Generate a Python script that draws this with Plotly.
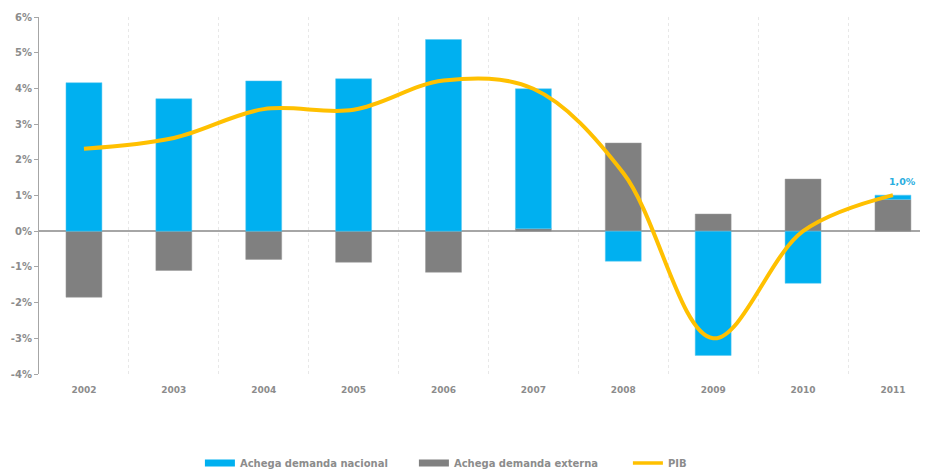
import plotly.graph_objects as go

years = ["2002", "2003", "2004", "2005", "2006", "2007", "2008", "2009", "2010", "2011"]
nacional = [4.16, 3.71, 4.21, 4.27, 5.37, 3.92, -0.84, -3.48, -1.46, 0.12]
externa = [-1.85, -1.10, -0.79, -0.87, -1.15, 0.07, 2.47, 0.48, 1.46, 0.89]
pib = [2.31, 2.61, 3.42, 3.40, 4.22, 3.99, 1.63, -3.00, 0.00, 1.01]
y_ticks = [-4, -3, -2, -1, 0, 1, 2, 3, 4, 5, 6]
y_ticktext = ["-4%", "-3%", "-2%", "-1%", "0%", "1%", "2%", "3%", "4%", "5%", "6%"]

BLUE = "#00B0F0"
GRAY = "#808080"
YELLOW = "#FFC000"
TXT = "#8C8C8C"
FONT = "DejaVu Sans"

fig = go.Figure()
fig.add_trace(go.Bar(x=years, y=externa, marker=dict(color=GRAY, line=dict(color="#9a9a9a", width=0.5)),
                     width=0.4, showlegend=False, hoverinfo="y"))
fig.add_trace(go.Bar(x=years, y=nacional, marker=dict(color=BLUE, line=dict(color="#5cc8f0", width=0.5)),
                     width=0.4, showlegend=False, hoverinfo="y"))
fig.add_trace(go.Scatter(x=years, y=pib, mode="lines", line=dict(color=YELLOW, width=4, shape="spline", smoothing=1),
                         showlegend=False))

# legend entries
fig.add_trace(go.Scatter(x=[None], y=[None], mode="lines", line=dict(color=BLUE, width=7),
                         name="Achega demanda nacional"))
fig.add_trace(go.Scatter(x=[None], y=[None], mode="lines", line=dict(color=GRAY, width=7),
                         name="Achega demanda externa"))
fig.add_trace(go.Scatter(x=[None], y=[None], mode="lines", line=dict(color=YELLOW, width=3.5),
                         name="PIB"))

fig.add_annotation(x=len(years) - 1, y=pib[-1], text="<b>" + f"{pib[-1]:.1f}".replace(".", ",") + "%</b>",
                   showarrow=False, xanchor="right", yanchor="middle", xshift=25, yshift=14,
                   font=dict(family=FONT, size=9.5, color="#2AAEE0"))

fig.update_layout(
    width=920, height=464,
    margin=dict(l=31, r=0, t=9, b=98),
    plot_bgcolor="white", paper_bgcolor="white",
    barmode="relative", bargap=0.6,
    font=dict(family=FONT, size=9, color=TXT),
    legend=dict(orientation="h", x=0.181, xanchor="left", yref="container", y=0.0194, yanchor="middle",
                font=dict(family=FONT, size=10, color=TXT, weight="bold"),
                itemwidth=30, tracegroupgap=0, entrywidth=169),
    xaxis=dict(type="category", range=[-0.5, 9.39], tickson="boundaries", showgrid=True,
               griddash="3px,3px", gridcolor="#E8E8E8", gridwidth=1, ticks="", showline=False,
               automargin=False,
               tickfont=dict(family=FONT, size=9, color=TXT, weight="bold"), ticklabelstandoff=9),
    yaxis=dict(range=[-4, 6], tickvals=y_ticks, ticktext=["<b>" + t + "</b>" for t in y_ticktext],
               showgrid=False, automargin=False,
               zeroline=True, zerolinecolor="#A6A6A6", zerolinewidth=1.5,
               showline=True, linecolor="#A6A6A6", linewidth=1, ticks="outside", ticklen=4,
               tickcolor="#A6A6A6",
               tickfont=dict(family=FONT, size=10, color=TXT, weight="bold")),
)

fig.write_html("out.html")
